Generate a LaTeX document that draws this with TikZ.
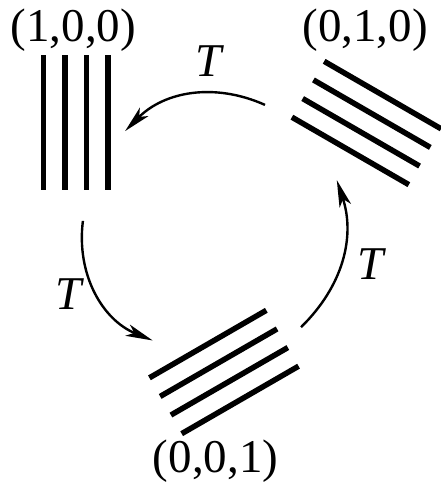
\documentclass[tikz,border=0pt]{standalone}
\usepackage{fontspec}
\setmainfont{Liberation Serif}
\usetikzlibrary{arrows.meta}
\tikzset{
	bar/.style={line width=5.5pt},
	map/.style={line width=2.4pt, -{Stealth[length=27pt,width=12pt,inset=7pt]}},
	lab/.style={inner sep=0pt, anchor=base, font={\fontsize{47}{52}\selectfont}},
}

\begin{document}
\begin{tikzpicture}[x=1pt, y=1pt]
\useasboundingbox (0,0) rectangle (440,493);
% centres of the three stacks
\coordinate (A) at (75.5,370.5);
\coordinate (B) at (366.5,370);
\coordinate (C) at (224,121);
\foreach \c/\r in {A/0, B/-120, C/120}{
	\begin{scope}[shift={(\c)}, rotate=\r]
	\foreach \x in {-32.25,-10.75,10.75,32.25}
		\draw[bar] (\x,-67.5) -- (\x,67.5);
	\end{scope}
}
\node[lab] (lA) at (73.5,451) {(1,0,0)};
\node[lab] (lB) at (365,451) {(0,1,0)};
\node[lab] (lC) at (215.5,20) {(0,0,1)};
\node[lab] (tBA) at (210,416) {\textit{T}};
\node[lab] (tAC) at (70,183) {\textit{T}};
\node[lab] (tCB) at (372,213) {\textit{T}};
% ends of the arrows
\coordinate (B-out) at (265,388.1);
\coordinate (A-in) at (125.1,361.9);
\coordinate (A-out) at (82.9,272.1);
\coordinate (C-in) at (152.7,152.5);
\coordinate (C-out) at (301,165.8);
\coordinate (B-in) at (336.8,312.9);
\draw[map] (B-out) to[bend right=34.7] (A-in);
\draw[map] (A-out) to[bend right=37.4] (C-in);
\draw[map] (C-out) to[bend right=32] (B-in);
%\draw[map] (B-out) arc[start angle=65.9, end angle=135.3, radius=125];
\end{tikzpicture}
\end{document}
